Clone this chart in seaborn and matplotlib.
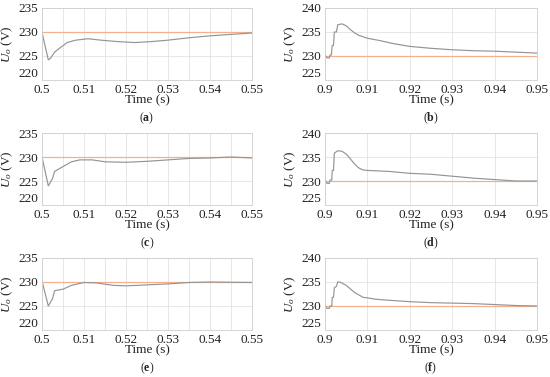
import matplotlib
matplotlib.use('Agg')
import matplotlib.pyplot as plt
import seaborn as sns
import numpy as np

# panel data
t_a = [0.5, 0.5005, 0.5015, 0.502, 0.503, 0.504, 0.506, 0.508, 0.511, 0.514, 0.518, 0.522, 0.526, 0.53, 0.535, 0.54, 0.545, 0.55]
u_a = [230.0, 228.0, 224.2, 224.5, 225.8, 226.5, 227.8, 228.3, 228.6, 228.3, 228.0, 227.8, 228.0, 228.3, 228.8, 229.2, 229.5, 229.8]

t_c = [0.5, 0.5005, 0.5015, 0.5025, 0.503, 0.505, 0.507, 0.509, 0.512, 0.515, 0.52, 0.525, 0.53, 0.535, 0.54, 0.545, 0.55]
u_c = [230.0, 228.0, 224.0, 225.5, 227.0, 228.0, 229.0, 229.4, 229.4, 229.0, 228.9, 229.1, 229.4, 229.7, 229.8, 230.0, 229.8]

t_e = [0.5, 0.5005, 0.5015, 0.5025, 0.503, 0.505, 0.507, 0.51, 0.513, 0.517, 0.52, 0.525, 0.53, 0.535, 0.54, 0.55]
u_e = [230.2, 228.5, 225.0, 226.5, 228.2, 228.5, 229.3, 229.9, 229.8, 229.3, 229.2, 229.4, 229.6, 229.9, 230.0, 229.9]

t_b = [0.9, 0.9005, 0.901, 0.9012, 0.9015, 0.9017, 0.902, 0.9022, 0.9027, 0.903, 0.904, 0.905, 0.906, 0.907, 0.908, 0.91, 0.913, 0.916, 0.92, 0.925, 0.93, 0.935, 0.94, 0.945, 0.95]
u_b = [230.2, 229.6, 229.6, 230.2, 230.2, 232.2, 232.2, 235.0, 235.0, 236.5, 236.7, 236.3, 235.5, 234.8, 234.3, 233.7, 233.2, 232.6, 232.0, 231.6, 231.3, 231.1, 231.0, 230.8, 230.6]

t_d = [0.9, 0.9005, 0.901, 0.9012, 0.9016, 0.9017, 0.902, 0.9022, 0.903, 0.904, 0.905, 0.906, 0.907, 0.908, 0.909, 0.91, 0.915, 0.92, 0.925, 0.93, 0.935, 0.94, 0.945, 0.95]
u_d = [230.2, 229.5, 229.5, 230.2, 230.2, 232.2, 232.2, 235.8, 236.3, 236.2, 235.6, 234.6, 233.5, 232.7, 232.3, 232.2, 232.0, 231.6, 231.4, 231.0, 230.6, 230.3, 230.0, 230.0]

t_f = [0.9, 0.9005, 0.901, 0.9012, 0.9016, 0.9017, 0.902, 0.9022, 0.9027, 0.903, 0.9035, 0.905, 0.907, 0.909, 0.91, 0.912, 0.915, 0.92, 0.925, 0.93, 0.935, 0.94, 0.945, 0.95]
u_f = [230.0, 229.5, 229.5, 230.0, 230.0, 231.8, 231.8, 233.8, 234.1, 235.0, 235.0, 234.3, 232.8, 231.8, 231.7, 231.4, 231.2, 230.9, 230.7, 230.6, 230.5, 230.3, 230.1, 230.0]

u_ref = 230

xt_left = [0.5, 0.51, 0.52, 0.53, 0.54, 0.55]
xl_left = ['0.5', '0.51', '0.52', '0.53', '0.54', '0.55']
xt_right = [0.9, 0.91, 0.92, 0.93, 0.94, 0.95]
xl_right = ['0.9', '0.91', '0.92', '0.93', '0.94', '0.95']
yt_left = [220, 225, 230, 235]
yt_right = [225, 230, 235, 240]
letters = ['a', 'b', 'c', 'd', 'e', 'f']

sns.set_theme(style='whitegrid')
plt.rcParams['font.family'] = ['Liberation Serif', 'DejaVu Serif']
plt.rcParams['mathtext.fontset'] = 'custom'
plt.rcParams['mathtext.rm'] = 'Liberation Serif'
plt.rcParams['mathtext.it'] = 'Liberation Serif:italic'
plt.rcParams['mathtext.bf'] = 'Liberation Serif:bold'

fig = plt.figure(figsize=(5.5, 3.77), dpi=100)

W, H = 550, 377
lefts = [42, 325]
widths = [210, 212]
tops = [8, 133, 258]
ah = 72

panels = [(t_a, u_a), (t_b, u_b), (t_c, u_c), (t_d, u_d), (t_e, u_e), (t_f, u_f)]

for i, (t, u) in enumerate(panels):
    row, col = divmod(i, 2)
    ax = fig.add_axes([lefts[col] / W, 1 - (tops[row] + ah) / H, widths[col] / W, ah / H])
    if col == 0:
        xt, xl, yt = xt_left, xl_left, yt_left
    else:
        xt, xl, yt = xt_right, xl_right, yt_right
    sns.lineplot(x=[xt[0], xt[-1]], y=[u_ref, u_ref], ax=ax, color='#f4b08c', lw=0.9)
    sns.lineplot(x=t, y=u, ax=ax, color='#949494', lw=0.85)
    ax.set_xlim(xt[0], xt[-1])
    ax.set_ylim(yt[0], yt[-1])
    ax.set_xticks(xt)
    ax.set_xticklabels(xl)
    ax.set_yticks(yt)
    if col == 0:
        ax.set_xticks(np.arange(xt[0], xt[-1] + 1e-9, 0.005), minor=True)
        ax.grid(True, which='minor', axis='x', color='#e3e3e3', lw=0.6)
    ax.grid(True, which='major', color='#e3e3e3', lw=0.6)
    ax.tick_params(axis='x', which='both', length=0, pad=3, labelsize=9.5, colors='#222222')
    ax.tick_params(axis='y', which='both', length=0, pad=3, labelsize=9.5, colors='#222222')
    # nudge the bottom y label up a touch so it clears the first x label
    ax.get_yticklabels()[0].set_va('bottom')
    for s in ax.spines.values():
        s.set_visible(True)
        s.set_color('#cfcfcf')
        s.set_linewidth(0.6)
    ax.set_xlabel('Time (s)', fontsize=9.5, labelpad=-1.5, color='#222222')
    ax.set_ylabel(r'$U_o$ (V)', fontsize=9.5, labelpad=2, color='#222222')
    cx = (lefts[col] + widths[col] / 2) / W
    fig.text(cx, 1 - (tops[row] + 110) / H, r'($\mathbf{%s}$)' % letters[i],
             ha='center', va='center', fontsize=8.5, color='#222222')

fig.savefig('out.png', dpi=100)
